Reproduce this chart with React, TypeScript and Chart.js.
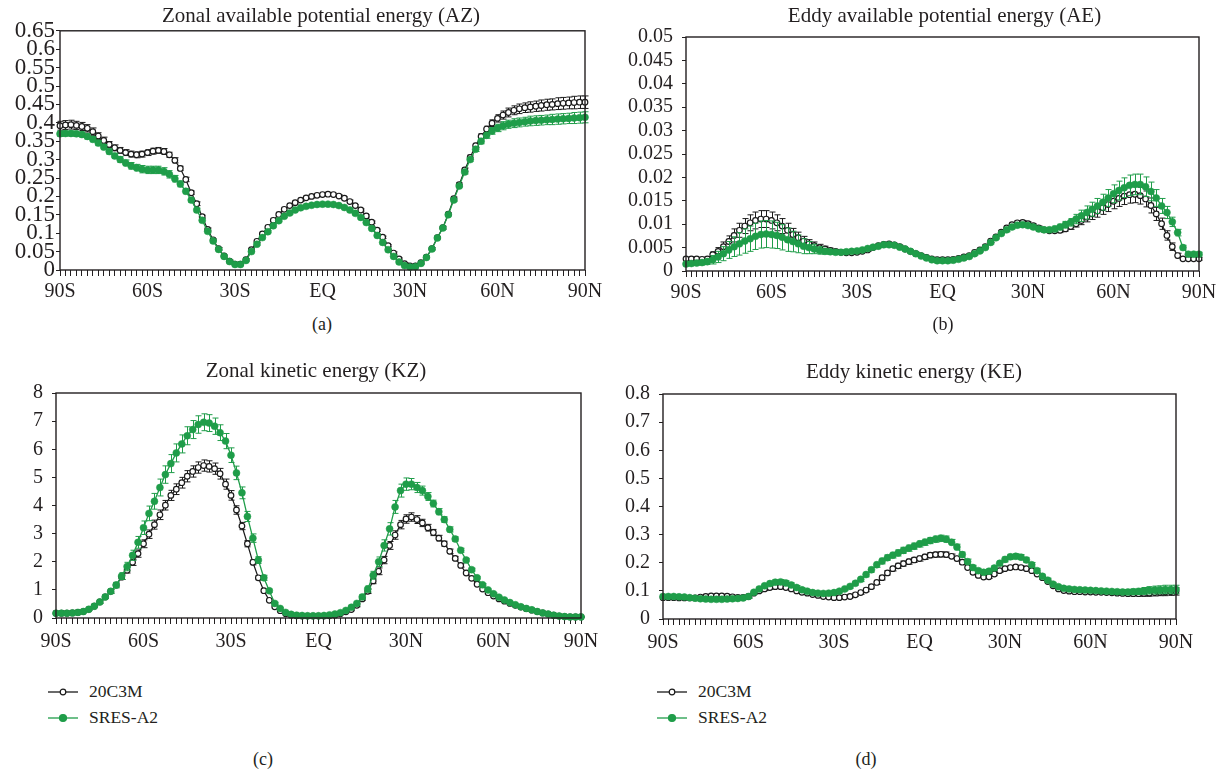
import React, { useEffect, useRef } from "react";
import { Chart, registerables } from "chart.js";

Chart.register(...registerables);

// ---------------- categories ----------------
const LATITUDES = [
  -90, -88.125, -86.25, -84.375, -82.5, -80.625, -78.75, -76.875,
  -75, -73.125, -71.25, -69.375, -67.5, -65.625, -63.75, -61.875,
  -60, -58.125, -56.25, -54.375, -52.5, -50.625, -48.75, -46.875,
  -45, -43.125, -41.25, -39.375, -37.5, -35.625, -33.75, -31.875,
  -30, -28.125, -26.25, -24.375, -22.5, -20.625, -18.75, -16.875,
  -15, -13.125, -11.25, -9.375, -7.5, -5.625, -3.75, -1.875,
  0, 1.875, 3.75, 5.625, 7.5, 9.375, 11.25, 13.125,
  15, 16.875, 18.75, 20.625, 22.5, 24.375, 26.25, 28.125,
  30, 31.875, 33.75, 35.625, 37.5, 39.375, 41.25, 43.125,
  45, 46.875, 48.75, 50.625, 52.5, 54.375, 56.25, 58.125,
  60, 61.875, 63.75, 65.625, 67.5, 69.375, 71.25, 73.125,
  75, 76.875, 78.75, 80.625, 82.5, 84.375, 86.25, 88.125,
  90,
];
const X_TICK_LATS = [-90, -60, -30, 0, 30, 60, 90];
const X_TICK_TEXT = ["90S", "60S", "30S", "EQ", "30N", "60N", "90N"];
const SERIES_NAMES = ["20C3M", "SRES-A2"];

// ---------------- (a) AZ ----------------
const AZ_20C3M = [
  0.392, 0.394, 0.395, 0.393, 0.39, 0.385, 0.376, 0.364,
  0.352, 0.341, 0.332, 0.325, 0.319, 0.315, 0.313, 0.315,
  0.319, 0.323, 0.325, 0.322, 0.313, 0.298, 0.276, 0.246,
  0.21, 0.18, 0.145, 0.11, 0.082, 0.058, 0.038, 0.024,
  0.016, 0.016, 0.028, 0.055, 0.078, 0.098, 0.116, 0.135,
  0.151, 0.165, 0.175, 0.183, 0.19, 0.196, 0.2, 0.203,
  0.205, 0.206, 0.205, 0.201, 0.195, 0.186, 0.175, 0.163,
  0.147, 0.13, 0.108, 0.089, 0.066, 0.046, 0.03, 0.017,
  0.011, 0.011, 0.02, 0.035, 0.058, 0.088, 0.115, 0.152,
  0.194, 0.232, 0.272, 0.306, 0.338, 0.363, 0.383, 0.399,
  0.412, 0.421, 0.428, 0.434, 0.438, 0.441, 0.443, 0.445,
  0.447, 0.449, 0.45, 0.452, 0.453, 0.454, 0.455, 0.456,
  0.456,
];
const AZ_SRESA2 = [
  0.37, 0.371, 0.371, 0.37, 0.368, 0.363, 0.355, 0.345,
  0.334, 0.322, 0.31, 0.3, 0.291, 0.283, 0.278, 0.274,
  0.272, 0.272, 0.272, 0.268, 0.26, 0.248, 0.234, 0.214,
  0.19, 0.163, 0.135, 0.105, 0.079, 0.056, 0.037, 0.023,
  0.015, 0.015, 0.026, 0.05, 0.07, 0.088, 0.104, 0.12,
  0.134, 0.146, 0.155, 0.163, 0.169, 0.173, 0.176, 0.178,
  0.179, 0.179, 0.178, 0.175, 0.17, 0.163, 0.154, 0.143,
  0.129, 0.113, 0.094, 0.075, 0.055, 0.037, 0.022, 0.012,
  0.008, 0.009, 0.018, 0.034, 0.057, 0.087, 0.114, 0.15,
  0.19, 0.228, 0.266, 0.3, 0.328, 0.35, 0.366, 0.378,
  0.386, 0.392, 0.396, 0.399, 0.401, 0.403, 0.405, 0.406,
  0.407, 0.408, 0.409, 0.41, 0.411, 0.412, 0.413, 0.414,
  0.415,
];
const AZ_ERR_20C3M = [
  0.012, 0.012, 0.012, 0.011, 0.011, 0.01, 0.01, 0.009,
  0.009, 0.008, 0.008, 0.008, 0.008, 0.008, 0.008, 0.008,
  0.008, 0.008, 0.008, 0.008, 0.007, 0.007, 0.006, 0.006,
  0.005, 0.005, 0.004, 0.004, 0.003, 0.003, 0.003, 0.003,
  0.003, 0.003, 0.003, 0.003, 0.003, 0.003, 0.003, 0.003,
  0.003, 0.003, 0.003, 0.004, 0.004, 0.004, 0.004, 0.004,
  0.004, 0.004, 0.004, 0.004, 0.004, 0.004, 0.003, 0.003,
  0.003, 0.003, 0.003, 0.003, 0.003, 0.003, 0.003, 0.003,
  0.003, 0.003, 0.003, 0.003, 0.003, 0.003, 0.004, 0.004,
  0.004, 0.005, 0.005, 0.006, 0.006, 0.007, 0.008, 0.009,
  0.01, 0.011, 0.012, 0.012, 0.013, 0.013, 0.014, 0.014,
  0.015, 0.015, 0.015, 0.016, 0.016, 0.016, 0.017, 0.017,
  0.017,
];
const AZ_ERR_SRESA2 = [
  0.007, 0.007, 0.007, 0.007, 0.007, 0.007, 0.007, 0.007,
  0.007, 0.007, 0.007, 0.008, 0.008, 0.009, 0.009, 0.01,
  0.01, 0.01, 0.01, 0.01, 0.01, 0.009, 0.008, 0.007,
  0.006, 0.005, 0.004, 0.004, 0.003, 0.003, 0.003, 0.003,
  0.003, 0.003, 0.003, 0.003, 0.003, 0.003, 0.003, 0.003,
  0.003, 0.003, 0.003, 0.003, 0.003, 0.003, 0.003, 0.003,
  0.003, 0.003, 0.003, 0.003, 0.003, 0.003, 0.003, 0.003,
  0.003, 0.003, 0.003, 0.003, 0.003, 0.003, 0.003, 0.003,
  0.003, 0.003, 0.003, 0.003, 0.003, 0.003, 0.003, 0.004,
  0.004, 0.004, 0.005, 0.005, 0.006, 0.007, 0.008, 0.009,
  0.01, 0.011, 0.011, 0.012, 0.012, 0.012, 0.013, 0.013,
  0.013, 0.013, 0.014, 0.014, 0.014, 0.014, 0.015, 0.015,
  0.015,
];

// ---------------- (b) AE ----------------
const AE_20C3M = [
  0.0026, 0.0026, 0.0026, 0.0025, 0.0026, 0.0035, 0.0042, 0.0052,
  0.0063, 0.0076, 0.0087, 0.0096, 0.0103, 0.0108, 0.0111, 0.0111,
  0.0108, 0.0103, 0.0096, 0.0087, 0.0078, 0.0071, 0.0064, 0.0058,
  0.0054, 0.005, 0.0047, 0.0044, 0.0042, 0.004, 0.0039, 0.0039,
  0.004, 0.0042, 0.0045, 0.005, 0.0054, 0.0057, 0.0058, 0.0056,
  0.0052, 0.0047, 0.0042, 0.0037, 0.0033, 0.0029, 0.0026, 0.0024,
  0.0024, 0.0024, 0.0025, 0.0027, 0.003, 0.0033, 0.004, 0.0045,
  0.0052, 0.0064, 0.0073, 0.0083, 0.0092, 0.0099, 0.0103, 0.0104,
  0.0101, 0.0097, 0.0092, 0.0088, 0.0086, 0.0086, 0.0087, 0.009,
  0.0095, 0.0101, 0.0108, 0.0115, 0.0122, 0.0128, 0.0135, 0.0142,
  0.0149, 0.0155, 0.016, 0.0163, 0.0164, 0.0161, 0.0154, 0.014,
  0.0122, 0.0101, 0.0076, 0.0052, 0.0033, 0.0026, 0.0026, 0.0026,
  0.0026,
];
const AE_SRESA2 = [
  0.0015, 0.0016, 0.0017, 0.0018, 0.002, 0.0024, 0.003, 0.0037,
  0.0045, 0.0052, 0.0058, 0.0064, 0.0069, 0.0074, 0.0078, 0.0079,
  0.0078, 0.0076, 0.0072, 0.0067, 0.0063, 0.0058, 0.0053, 0.005,
  0.0047, 0.0044, 0.0042, 0.0041, 0.004, 0.004, 0.0041, 0.0042,
  0.0043, 0.0045, 0.0048, 0.0051, 0.0053, 0.0056, 0.0056, 0.0055,
  0.0051, 0.0047, 0.0042, 0.0037, 0.0032, 0.0028, 0.0024, 0.0022,
  0.0022, 0.0022, 0.0023, 0.0025, 0.0028, 0.0031, 0.0037, 0.0043,
  0.005, 0.0061, 0.0071, 0.008, 0.0088, 0.0094, 0.0098, 0.0099,
  0.0097, 0.0094, 0.009, 0.0088, 0.0088, 0.009, 0.0094, 0.0099,
  0.0104, 0.0111, 0.0118, 0.0125, 0.0132, 0.0139, 0.0147, 0.0156,
  0.0165, 0.0172, 0.0178, 0.0183, 0.0185, 0.0185, 0.018, 0.017,
  0.0156, 0.0139, 0.0125, 0.0105, 0.0082, 0.005, 0.0036, 0.0036,
  0.0036,
];
const AE_ERR_20C3M = [
  0.0003, 0.0003, 0.0003, 0.0003, 0.0004, 0.0006, 0.0008, 0.001,
  0.0012, 0.0014, 0.0015, 0.0016, 0.0017, 0.0018, 0.0018, 0.0018,
  0.0018, 0.0017, 0.0016, 0.0015, 0.0013, 0.0012, 0.001, 0.0009,
  0.0008, 0.0007, 0.0006, 0.0005, 0.0004, 0.0004, 0.0003, 0.0003,
  0.0003, 0.0003, 0.0003, 0.0003, 0.0003, 0.0003, 0.0003, 0.0003,
  0.0003, 0.0003, 0.0003, 0.0003, 0.0003, 0.0003, 0.0003, 0.0003,
  0.0003, 0.0003, 0.0003, 0.0003, 0.0003, 0.0003, 0.0003, 0.0003,
  0.0003, 0.0003, 0.0003, 0.0003, 0.0003, 0.0003, 0.0004, 0.0004,
  0.0004, 0.0004, 0.0004, 0.0004, 0.0004, 0.0004, 0.0005, 0.0005,
  0.0006, 0.0007, 0.0009, 0.001, 0.0012, 0.0013, 0.0014, 0.0015,
  0.0016, 0.0017, 0.0018, 0.0018, 0.0018, 0.0018, 0.0017, 0.0016,
  0.0014, 0.0012, 0.001, 0.0008, 0.0005, 0.0003, 0.0003, 0.0003,
  0.0003,
];
const AE_ERR_SRESA2 = [
  0.0004, 0.0004, 0.0004, 0.0005, 0.0006, 0.0009, 0.0012, 0.0015,
  0.0018, 0.0021, 0.0024, 0.0026, 0.0027, 0.0028, 0.0029, 0.0029,
  0.0029, 0.0028, 0.0027, 0.0025, 0.0022, 0.0019, 0.0016, 0.0013,
  0.001, 0.0008, 0.0006, 0.0005, 0.0004, 0.0004, 0.0003, 0.0003,
  0.0003, 0.0003, 0.0003, 0.0003, 0.0003, 0.0003, 0.0003, 0.0003,
  0.0003, 0.0003, 0.0003, 0.0003, 0.0003, 0.0003, 0.0003, 0.0003,
  0.0003, 0.0003, 0.0003, 0.0003, 0.0003, 0.0003, 0.0003, 0.0003,
  0.0003, 0.0003, 0.0003, 0.0003, 0.0004, 0.0004, 0.0004, 0.0004,
  0.0004, 0.0004, 0.0005, 0.0005, 0.0005, 0.0006, 0.0006, 0.0007,
  0.0008, 0.001, 0.0012, 0.0014, 0.0015, 0.0016, 0.0017, 0.0018,
  0.0019, 0.002, 0.0021, 0.0022, 0.0022, 0.0022, 0.0021, 0.002,
  0.0018, 0.0016, 0.0013, 0.001, 0.0007, 0.0005, 0.0004, 0.0004,
  0.0004,
];

// ---------------- (c) KZ ----------------
const KZ_20C3M = [
  0.17, 0.17, 0.17, 0.18, 0.2, 0.23, 0.31, 0.42,
  0.57, 0.75, 0.95, 1.17, 1.45, 1.7, 1.98, 2.29,
  2.64, 2.98, 3.32, 3.67, 4.01, 4.36, 4.58, 4.81,
  5.04, 5.21, 5.35, 5.42, 5.39, 5.31, 5.13, 4.76,
  4.36, 3.84, 3.27, 2.64, 1.98, 1.43, 0.97, 0.63,
  0.4, 0.26, 0.15, 0.1, 0.08, 0.07, 0.07, 0.07,
  0.07, 0.07, 0.08, 0.1, 0.15, 0.22, 0.3, 0.45,
  0.68, 0.95, 1.32, 1.66, 2.06, 2.58, 2.95, 3.32,
  3.52, 3.59, 3.5, 3.38, 3.21, 3.04, 2.84, 2.64,
  2.37, 2.12, 1.87, 1.6, 1.41, 1.2, 1.03, 0.9,
  0.78, 0.68, 0.6, 0.52, 0.45, 0.39, 0.33, 0.28,
  0.23, 0.18, 0.14, 0.1, 0.07, 0.05, 0.04, 0.04,
  0.04,
];
const KZ_SRESA2 = [
  0.17, 0.17, 0.17, 0.18, 0.2, 0.23, 0.31, 0.42,
  0.57, 0.75, 0.95, 1.17, 1.49, 1.83, 2.23, 2.69,
  3.21, 3.72, 4.15, 4.64, 5.1, 5.49, 5.87, 6.19,
  6.48, 6.7, 6.88, 6.96, 6.93, 6.82, 6.59, 6.29,
  5.79, 5.16, 4.45, 3.61, 2.84, 2.06, 1.43, 0.97,
  0.52, 0.34, 0.2, 0.13, 0.1, 0.09, 0.08, 0.08,
  0.08, 0.09, 0.11, 0.14, 0.19, 0.27, 0.38, 0.52,
  0.75, 1.03, 1.52, 2.0, 2.58, 3.17, 3.95, 4.53,
  4.76, 4.76, 4.64, 4.53, 4.32, 4.07, 3.78, 3.5,
  3.15, 2.81, 2.41, 2.06, 1.72, 1.43, 1.18, 1.0,
  0.86, 0.74, 0.64, 0.55, 0.47, 0.4, 0.34, 0.29,
  0.23, 0.18, 0.14, 0.1, 0.07, 0.05, 0.04, 0.04,
  0.04,
];
const KZ_ERR_20C3M = [
  0.02, 0.02, 0.02, 0.02, 0.02, 0.02, 0.03, 0.03,
  0.04, 0.05, 0.06, 0.07, 0.08, 0.1, 0.11, 0.13,
  0.14, 0.15, 0.16, 0.17, 0.17, 0.18, 0.19, 0.19,
  0.2, 0.2, 0.2, 0.2, 0.2, 0.2, 0.19, 0.18,
  0.17, 0.15, 0.13, 0.11, 0.09, 0.07, 0.05, 0.04,
  0.03, 0.02, 0.02, 0.02, 0.02, 0.02, 0.02, 0.02,
  0.02, 0.02, 0.02, 0.02, 0.02, 0.03, 0.04, 0.05,
  0.06, 0.08, 0.1, 0.12, 0.13, 0.14, 0.15, 0.15,
  0.15, 0.15, 0.14, 0.13, 0.12, 0.11, 0.1, 0.09,
  0.08, 0.07, 0.06, 0.05, 0.05, 0.04, 0.04, 0.03,
  0.03, 0.03, 0.03, 0.02, 0.02, 0.02, 0.02, 0.02,
  0.02, 0.02, 0.02, 0.02, 0.02, 0.02, 0.02, 0.02,
  0.02,
];
const KZ_ERR_SRESA2 = [
  0.02, 0.02, 0.02, 0.02, 0.02, 0.03, 0.03, 0.04,
  0.05, 0.06, 0.08, 0.1, 0.12, 0.15, 0.18, 0.21,
  0.24, 0.26, 0.28, 0.3, 0.31, 0.32, 0.32, 0.32,
  0.32, 0.32, 0.31, 0.3, 0.3, 0.29, 0.28, 0.27,
  0.26, 0.24, 0.21, 0.18, 0.15, 0.12, 0.09, 0.06,
  0.04, 0.03, 0.02, 0.02, 0.02, 0.02, 0.02, 0.02,
  0.02, 0.02, 0.02, 0.02, 0.02, 0.03, 0.04, 0.06,
  0.08, 0.11, 0.14, 0.17, 0.2, 0.22, 0.23, 0.23,
  0.22, 0.2, 0.18, 0.16, 0.14, 0.12, 0.11, 0.1,
  0.09, 0.08, 0.07, 0.06, 0.05, 0.04, 0.04, 0.03,
  0.03, 0.03, 0.02, 0.02, 0.02, 0.02, 0.02, 0.02,
  0.02, 0.02, 0.02, 0.02, 0.02, 0.02, 0.02, 0.02,
  0.02,
];

// ---------------- (d) KE ----------------
const KE_20C3M = [
  0.076, 0.076, 0.076, 0.075, 0.075, 0.075, 0.075, 0.078,
  0.08, 0.082, 0.082, 0.082, 0.081, 0.079, 0.077, 0.077,
  0.08, 0.092, 0.1, 0.107, 0.112, 0.115, 0.115, 0.112,
  0.107, 0.1, 0.095, 0.092, 0.087, 0.084, 0.08, 0.078,
  0.076, 0.076, 0.078, 0.08, 0.086, 0.094, 0.103, 0.115,
  0.13, 0.147, 0.164, 0.179, 0.189, 0.197, 0.204, 0.21,
  0.215, 0.221, 0.227, 0.229, 0.23, 0.229, 0.223, 0.215,
  0.202, 0.183, 0.166, 0.155, 0.149, 0.15, 0.16, 0.172,
  0.179, 0.183, 0.185, 0.183, 0.179, 0.172, 0.16, 0.147,
  0.133, 0.118, 0.107, 0.101, 0.099, 0.097, 0.097, 0.096,
  0.096, 0.095, 0.095, 0.094, 0.093, 0.092, 0.091, 0.09,
  0.09, 0.09, 0.091, 0.092, 0.094, 0.095, 0.096, 0.097,
  0.098,
];
const KE_SRESA2 = [
  0.08, 0.08, 0.08, 0.079, 0.078, 0.076, 0.074, 0.072,
  0.071, 0.07, 0.07, 0.07, 0.071, 0.072, 0.073, 0.075,
  0.08, 0.095, 0.107, 0.118, 0.126, 0.131, 0.132, 0.128,
  0.121, 0.112, 0.104, 0.099, 0.094, 0.092, 0.091, 0.092,
  0.094, 0.099, 0.107, 0.116, 0.127, 0.141, 0.158, 0.175,
  0.193, 0.206, 0.218, 0.227, 0.235, 0.244, 0.252, 0.259,
  0.267, 0.273, 0.279, 0.284, 0.287, 0.284, 0.273, 0.256,
  0.229, 0.204, 0.183, 0.172, 0.166, 0.17, 0.181, 0.198,
  0.212, 0.221, 0.223, 0.22, 0.21, 0.193, 0.172, 0.152,
  0.138, 0.124, 0.115, 0.109, 0.107, 0.105, 0.104, 0.103,
  0.102, 0.101, 0.1, 0.099, 0.098, 0.097, 0.096, 0.096,
  0.097, 0.098, 0.1, 0.102, 0.103, 0.104, 0.105, 0.105,
  0.105,
];
const KE_ERR_20C3M = [
  0.005, 0.005, 0.005, 0.005, 0.005, 0.005, 0.005, 0.005,
  0.005, 0.005, 0.005, 0.005, 0.005, 0.005, 0.005, 0.005,
  0.005, 0.005, 0.006, 0.006, 0.006, 0.006, 0.006, 0.006,
  0.006, 0.005, 0.005, 0.005, 0.005, 0.005, 0.005, 0.005,
  0.005, 0.005, 0.005, 0.005, 0.006, 0.006, 0.006, 0.007,
  0.007, 0.008, 0.008, 0.008, 0.009, 0.009, 0.009, 0.009,
  0.009, 0.009, 0.009, 0.009, 0.009, 0.009, 0.008, 0.008,
  0.008, 0.007, 0.007, 0.006, 0.006, 0.006, 0.006, 0.006,
  0.006, 0.006, 0.006, 0.006, 0.006, 0.006, 0.006, 0.005,
  0.005, 0.005, 0.005, 0.005, 0.005, 0.005, 0.005, 0.005,
  0.005, 0.005, 0.005, 0.005, 0.005, 0.005, 0.006, 0.007,
  0.008, 0.009, 0.01, 0.011, 0.012, 0.012, 0.013, 0.013,
  0.013,
];
const KE_ERR_SRESA2 = [
  0.006, 0.006, 0.006, 0.006, 0.006, 0.006, 0.006, 0.006,
  0.006, 0.006, 0.006, 0.006, 0.006, 0.006, 0.006, 0.006,
  0.006, 0.006, 0.007, 0.007, 0.008, 0.008, 0.008, 0.008,
  0.008, 0.007, 0.007, 0.006, 0.006, 0.006, 0.006, 0.006,
  0.006, 0.006, 0.006, 0.007, 0.007, 0.008, 0.008, 0.009,
  0.009, 0.01, 0.01, 0.01, 0.011, 0.011, 0.011, 0.011,
  0.011, 0.011, 0.011, 0.011, 0.011, 0.011, 0.01, 0.01,
  0.009, 0.009, 0.008, 0.008, 0.008, 0.008, 0.008, 0.008,
  0.009, 0.009, 0.009, 0.009, 0.009, 0.008, 0.008, 0.007,
  0.007, 0.006, 0.006, 0.006, 0.006, 0.006, 0.006, 0.006,
  0.006, 0.006, 0.006, 0.006, 0.006, 0.007, 0.008, 0.009,
  0.01, 0.011, 0.012, 0.013, 0.014, 0.014, 0.015, 0.015,
  0.015,
];

// ---------------- panel definitions ----------------
const PANEL_TITLES = [
  "Zonal available potential energy (AZ)",
  "Eddy available potential energy (AE)",
  "Zonal kinetic energy (KZ)",
  "Eddy kinetic energy (KE)",
];
const PANEL_LETTERS = ["(a)", "(b)", "(c)", "(d)"];
const PANEL_VALUES = [
  [AZ_20C3M, AZ_SRESA2],
  [AE_20C3M, AE_SRESA2],
  [KZ_20C3M, KZ_SRESA2],
  [KE_20C3M, KE_SRESA2],
];
const PANEL_ERRORS = [
  [AZ_ERR_20C3M, AZ_ERR_SRESA2],
  [AE_ERR_20C3M, AE_ERR_SRESA2],
  [KZ_ERR_20C3M, KZ_ERR_SRESA2],
  [KE_ERR_20C3M, KE_ERR_SRESA2],
];
const Y_MAX = [0.65, 0.05, 8, 0.8];
const Y_STEP = [0.05, 0.005, 1, 0.1];

// ---------------- layout & style ----------------
const FONT = "'Liberation Serif', 'Times New Roman', serif";
const TEXT = "#231f20";
const AXIS = "#231f20";
const BLACK = "#1a1a1a";
const GREEN = "#1f9d49";

const LAYOUT = [
  { left: 0, top: 16, axisW: 60, plotW: 525, plotH: 240, pad: 1, yFont: 23, xPad: 4, titleX: 321, titleTop: 5, subX: 322, subTop: 314.5, legendX: -1 },
  { left: 606, top: 16, axisW: 80, plotW: 513, plotH: 241, pad: 9, yFont: 20, xPad: 4, titleX: 944.5, titleTop: 5, subX: 943, subTop: 314.5, legendX: -1 },
  { left: 0, top: 372, axisW: 56, plotW: 525, plotH: 232, pad: 9, yFont: 20, xPad: 6, titleX: 316, titleTop: 360.4, subX: 263, subTop: 749.5, legendX: 48 },
  { left: 583, top: 373, axisW: 80, plotW: 513, plotH: 232, pad: 9, yFont: 20, xPad: 6, titleX: 914, titleTop: 360.7, subX: 866, subTop: 749.5, legendX: 657 },
];
const PAD_TOP = 14;
const PAD_RIGHT = 25;
const X_AXIS_H = 44;

const errorBarPlugin = {
  id: "errorBars",
  beforeDatasetDraw(chart: any, args: any) {
    const ds = chart.data.datasets[args.index];
    const errs: number[] | undefined = ds.errorValues;
    if (!errs) return;
    const y = chart.scales.y;
    const ctx = chart.ctx;
    ctx.save();
    ctx.strokeStyle = ds.errorColor;
    ctx.lineWidth = 1;
    ctx.beginPath();
    args.meta.data.forEach((pt: any, i: number) => {
      const v = ds.data[i];
      const e = errs[i];
      if (v == null || e == null) return;
      const x = Math.round(pt.x) + 0.5;
      const yt = y.getPixelForValue(v + e);
      const yb = y.getPixelForValue(v - e);
      ctx.moveTo(x, yt);
      ctx.lineTo(x, yb);
      ctx.moveTo(x - 3, yt);
      ctx.lineTo(x + 3, yt);
      ctx.moveTo(x - 3, yb);
      ctx.lineTo(x + 3, yb);
    });
    ctx.stroke();
    ctx.restore();
  },
};

const framePlugin = {
  id: "frame",
  afterDatasetsDraw(chart: any) {
    const { left, top, right, bottom } = chart.chartArea;
    const ctx = chart.ctx;
    ctx.save();
    ctx.strokeStyle = AXIS;
    ctx.lineWidth = 1.4;
    ctx.strokeRect(left, top, right - left, bottom - top);
    ctx.restore();
  },
};

function xLabel(index: number): string {
  const k = X_TICK_LATS.indexOf(LATITUDES[index]);
  return k >= 0 ? X_TICK_TEXT[k] : "";
}

function LegendRow({ x, cy, color, filled, text }: { x: number; cy: number; color: string; filled: boolean; text: string }) {
  return (
    <>
      <svg
        width={30}
        height={12}
        style={{ position: "absolute", left: x, top: cy - 6, overflow: "visible" }}
      >
        <line x1={0} y1={6} x2={30} y2={6} stroke={color} strokeWidth={1.3} />
        <circle
          cx={15}
          cy={6}
          r={filled ? 3.5 : 2.8}
          fill={filled ? color : "#ffffff"}
          stroke={color}
          strokeWidth={1.2}
        />
      </svg>
      <div
        style={{
          position: "absolute",
          left: x + 41,
          top: cy - 9,
          whiteSpace: "nowrap",
          fontFamily: FONT,
          fontSize: 17.5,
          lineHeight: "17.5px",
          color: TEXT,
        }}
      >
        {text}
      </div>
    </>
  );
}

function Panel({ idx }: { idx: number }) {
  const ref = useRef<HTMLCanvasElement | null>(null);
  const L = LAYOUT[idx];
  const width = L.axisW + L.plotW + PAD_RIGHT;
  const height = PAD_TOP + L.plotH + X_AXIS_H;

  useEffect(() => {
    if (!ref.current) return;
    const [vBlack, vGreen] = PANEL_VALUES[idx];
    const [eBlack, eGreen] = PANEL_ERRORS[idx];
    const chart = new Chart(ref.current, {
      type: "line",
      data: {
        labels: LATITUDES.map(String),
        datasets: [
          {
            label: SERIES_NAMES[1],
            data: vGreen,
            borderColor: GREEN,
            backgroundColor: GREEN,
            borderWidth: 1.3,
            pointRadius: 3.5,
            pointBackgroundColor: GREEN,
            pointBorderColor: GREEN,
            pointBorderWidth: 0.5,
            tension: 0,
            clip: false,
            errorValues: eGreen,
            errorColor: GREEN,
          } as any,
          {
            label: SERIES_NAMES[0],
            data: vBlack,
            borderColor: BLACK,
            backgroundColor: "#ffffff",
            borderWidth: 1.2,
            pointRadius: 2.8,
            pointBackgroundColor: "#ffffff",
            pointBorderColor: BLACK,
            pointBorderWidth: 1.2,
            tension: 0,
            clip: false,
            errorValues: eBlack,
            errorColor: BLACK,
          } as any,
        ],
      },
      options: {
        animation: false,
        responsive: false,
        maintainAspectRatio: false,
        devicePixelRatio: 1,
        layout: { padding: { top: PAD_TOP, right: PAD_RIGHT, left: 0, bottom: 0 } },
        plugins: {
          legend: { display: false },
          tooltip: { enabled: false },
          title: { display: false },
        },
        scales: {
          x: {
            type: "category",
            offset: false,
            border: { display: false },
            grid: {
              display: true,
              drawOnChartArea: false,
              drawTicks: true,
              tickLength: 6,
              color: AXIS,
              lineWidth: 1,
            },
            ticks: {
              autoSkip: false,
              maxRotation: 0,
              minRotation: 0,
              padding: L.xPad,
              color: TEXT,
              font: { family: FONT, size: 20 },
              callback: (_v: any, i: number) => xLabel(i),
            },
            afterFit: (s: any) => {
              s.height = X_AXIS_H;
            },
          },
          y: {
            type: "linear",
            min: 0,
            max: Y_MAX[idx],
            border: { display: false },
            grid: {
              display: true,
              drawOnChartArea: false,
              drawTicks: true,
              tickLength: 4,
              color: AXIS,
              lineWidth: 1,
            },
            ticks: {
              stepSize: Y_STEP[idx],
              autoSkip: false,
              padding: L.pad,
              color: TEXT,
              font: { family: FONT, size: L.yFont },
              callback: (v: any) => String(parseFloat(Number(v).toFixed(4))),
            },
            afterFit: (s: any) => {
              s.width = L.axisW;
            },
          },
        },
      } as any,
      plugins: [errorBarPlugin, framePlugin],
    });
    return () => chart.destroy();
  }, [idx]);

  return (
    <>
      <canvas
        ref={ref}
        width={width}
        height={height}
        style={{ position: "absolute", left: L.left, top: L.top, width, height }}
      />
      <div
        style={{
          position: "absolute",
          left: L.titleX,
          top: L.titleTop,
          transform: "translateX(-50%)",
          whiteSpace: "nowrap",
          fontFamily: FONT,
          fontSize: 21,
          lineHeight: "21px",
          color: TEXT,
        }}
      >
        {PANEL_TITLES[idx]}
      </div>
      <div
        style={{
          position: "absolute",
          left: L.subX,
          top: L.subTop,
          transform: "translateX(-50%)",
          whiteSpace: "nowrap",
          fontFamily: FONT,
          fontSize: 18,
          lineHeight: "18px",
          color: TEXT,
        }}
      >
        {PANEL_LETTERS[idx]}
      </div>
      {L.legendX >= 0 && (
        <>
          <LegendRow x={L.legendX} cy={692} color={BLACK} filled={false} text={SERIES_NAMES[0]} />
          <LegendRow x={L.legendX} cy={718} color={GREEN} filled={true} text={SERIES_NAMES[1]} />
        </>
      )}
    </>
  );
}

export default function App() {
  return (
    <div
      style={{
        position: "absolute",
        left: 0,
        top: 0,
        width: 1226,
        height: 774,
        background: "#ffffff",
        overflow: "hidden",
      }}
    >
      {[0, 1, 2, 3].map((i) => (
        <Panel key={i} idx={i} />
      ))}
    </div>
  );
}
